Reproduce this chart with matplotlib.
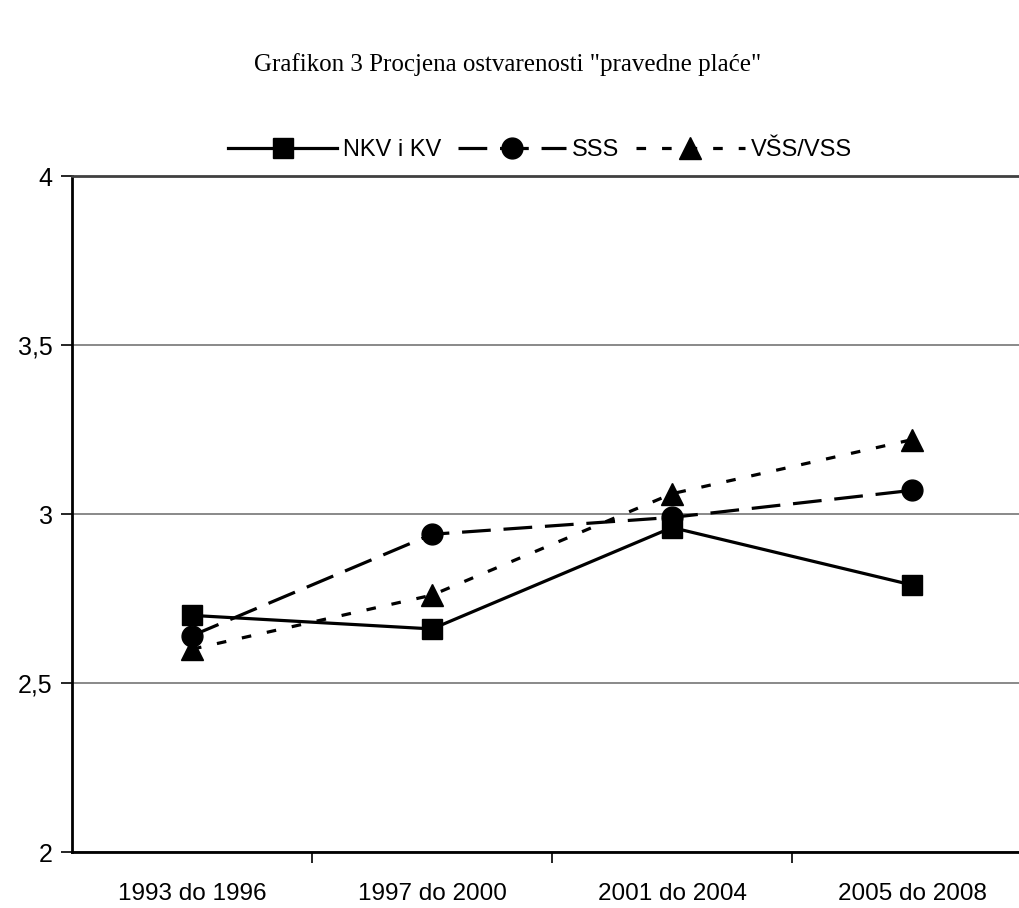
import matplotlib
matplotlib.use("Agg")
import matplotlib.pyplot as plt

categories = ["1993 do 1996", "1997 do 2000", "2001 do 2004", "2005 do 2008"]
nkv = [2.70, 2.66, 2.96, 2.79]
sss = [2.64, 2.94, 2.99, 3.07]
vss = [2.60, 2.76, 3.06, 3.22]
yticks = [2, 2.5, 3, 3.5, 4]
ylabels = ["2", "2,5", "3", "3,5", "4"]
title = 'Grafikon 3 Procjena ostvarenosti "pravedne plaće"'

W, H = 1019, 908
fig = plt.figure(figsize=(W / 100, H / 100), dpi=100)
ax = fig.add_axes([72 / W, (H - 852) / H, 960 / W, (852 - 176) / H])

x = list(range(len(categories)))
ax.plot(x, nkv, color="black", lw=2.3, linestyle="-", marker="s", markersize=15,
        label="NKV i KV", zorder=5)
ax.plot(x, sss, color="black", lw=2.3, linestyle=(0, (9, 4)), marker="o", markersize=15,
        label="SSS", zorder=5)
ax.plot(x, vss, color="black", lw=2.3, linestyle=(0, (3, 5)), marker="^", markersize=16,
        label="VŠS/VSS", zorder=5)

ax.set_xlim(-0.5, len(categories) - 0.5)
ax.set_ylim(2, 4)
ax.set_yticks(yticks)
ax.set_yticklabels(ylabels, fontfamily="Liberation Sans", fontsize=18)
ax.set_xticks(x)
ax.set_xticklabels(categories, fontfamily="Liberation Sans", fontsize=17.5)
ax.set_xticks([0.5, 1.5, 2.5], minor=True)
ax.tick_params(axis="x", which="major", length=0, pad=22)
ax.tick_params(axis="x", which="minor", length=8, width=1.2, direction="out")
ax.tick_params(axis="y", length=8, width=1.2, direction="out", pad=6)

ax.yaxis.grid(True, color="#808080", lw=1.3)
ax.set_axisbelow(True)
ax.spines["right"].set_visible(False)
ax.spines["top"].set_color("#404040")
ax.spines["top"].set_linewidth(2)
ax.spines["left"].set_linewidth(2)
ax.spines["bottom"].set_linewidth(2)

fig.text(508 / W, 1 - 65 / H, title, ha="center", va="center",
         fontfamily="Liberation Serif", fontsize=18)

leg = fig.legend(loc="center", bbox_to_anchor=(540 / W, 1 - 150 / H), ncol=3,
                 frameon=False, prop={"family": "Liberation Sans", "size": 17},
                 handlelength=4.6, columnspacing=0.7, handletextpad=0.25)

fig.savefig("out.png", dpi=100)
